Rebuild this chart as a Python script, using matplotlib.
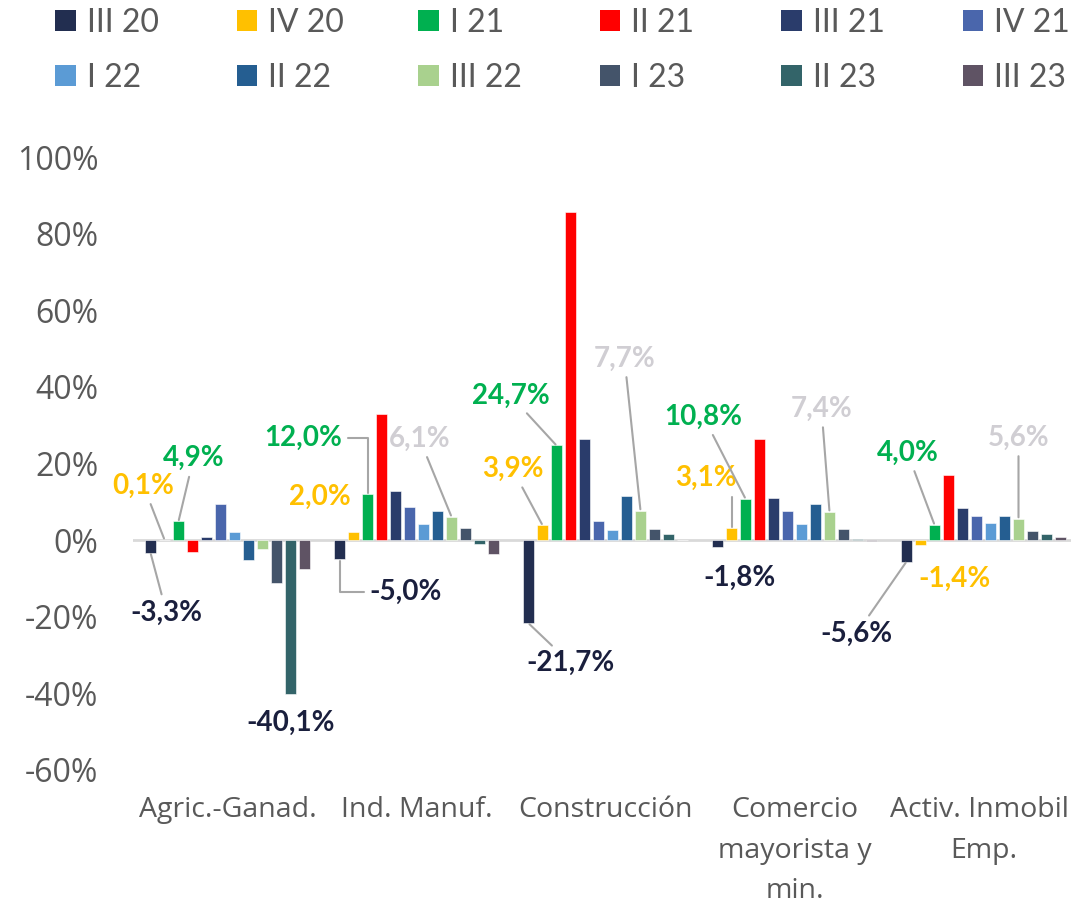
import numpy as np
import matplotlib
matplotlib.use("Agg")
import matplotlib.pyplot as plt
from matplotlib.patches import Patch

plt.rcParams["font.family"] = ["Lato", "DejaVu Sans"]

categories = ["Agric.-Ganad.", "Ind. Manuf.", "Construcción",
              "Comercio\nmayorista y\nmin.", "Activ. Inmobil.\nEmp."]
series = ["III 20", "IV 20", "I 21", "II 21", "III 21", "IV 21",
          "I 22", "II 22", "III 22", "I 23", "II 23", "III 23"]
colors = ["#222E50", "#FFC000", "#00B050", "#FF0000", "#2A3C6B", "#4A66AC",
          "#5B9BD5", "#255E91", "#A9D18E", "#44546A", "#336469", "#5F5364"]

# values in %, one row per category, one column per quarter
agric = [-3.3, 0.1, 4.9, -3.1, 0.8, 9.5, 2.1, -5.2, -2.3, -11.2, -40.1, -7.6]
manuf = [-5.0, 2.0, 12.0, 33.0, 12.7, 8.6, 4.3, 7.5, 6.1, 3.1, -1.0, -3.6]
constr = [-21.7, 3.9, 24.7, 85.7, 26.5, 5.0, 2.7, 11.5, 7.7, 2.9, 1.6, 0.0]
comerc = [-1.8, 3.1, 10.8, 26.4, 11.1, 7.6, 4.3, 9.3, 7.4, 3.0, 0.4, -0.3]
inmob = [-5.6, -1.4, 4.0, 17.1, 8.5, 6.3, 4.6, 6.2, 5.6, 2.3, 1.5, 0.9]
values = np.array([agric, manuf, constr, comerc, inmob])

yticks = [-60, -40, -20, 0, 20, 40, 60, 80, 100]

NAVY = "#1A1F3D"
YEL = "#FFC000"
GRN = "#00B050"
GRY = "#D0CED3"
# (category, series, dx px, dy px, colour, leader style)
labels = [
    (0, 0, 16, -60, NAVY, "line"), (0, 1, -21, 54, YEL, "line"),
    (0, 2, 15, 63, GRN, "line"), (0, 10, 0, -29, NAVY, None),
    (1, 0, 66, -33, NAVY, "elbow"), (1, 1, -34, 36, YEL, None),
    (1, 2, -64, 56, GRN, "elbow"), (1, 8, -32, 78, GRY, "line"),
    (2, 0, 42, -40, NAVY, "line"), (2, 1, -30, 56, YEL, "line"),
    (2, 2, -46, 50, GRN, "line"), (2, 8, -16, 152, GRY, "line"),
    (3, 0, 22, -31, NAVY, None), (3, 1, -26, 50, YEL, "elbow"),
    (3, 2, -42, 82, GRN, "line"), (3, 8, -8, 103, GRY, "line"),
    (4, 0, -50, -72, NAVY, "line"), (4, 1, 34, -33, YEL, None),
    (4, 2, -27, 72, GRN, "line"), (4, 8, 0, 81, GRY, "line"),
]

fig = plt.figure(figsize=(10.71, 9.02), dpi=100)
ax = fig.add_axes([133 / 1071, 132 / 902, 945 / 1071, 613 / 902])

n = len(series)
step = 14 / 189
width = 11 / 189
x = np.arange(len(categories))
for s in range(n):
    ax.bar(x + (s - (n - 1) / 2) * step, values[:, s], width, color=colors[s],
           edgecolor="white", linewidth=0.4, label=series[s], zorder=2)

ax.axhline(0, color="#D9D9D9", linewidth=2, zorder=1)

for c, s, dx, dy, col, style in labels:
    v = values[c, s]
    bx = x[c] + (s - (n - 1) / 2) * step
    txt = f"{v:.1f}".replace(".", ",") + "%"
    props = None
    if style == "line":
        props = dict(arrowstyle="-", color="#A6A6A6", lw=1.5,
                     shrinkA=2, shrinkB=1)
    elif style == "elbow":
        props = dict(arrowstyle="-", color="#A6A6A6", lw=1.5,
                     shrinkA=2, shrinkB=1,
                     connectionstyle="angle,angleA=0,angleB=90,rad=0")
    ax.annotate(txt, (bx, v), xytext=(dx, dy), textcoords="offset pixels",
                ha="center", va="center", fontsize=20, fontweight="bold",
                color=col, arrowprops=props, zorder=3)

ax.set_xlim(-0.5, 4.5)
ax.set_ylim(-60, 100)
ax.set_yticks(yticks)
ax.set_yticklabels([f"{t}%" for t in yticks], family="Open Sans",
                   fontsize=23, color="#595959")
ax.set_xticks(x)
ax.set_xticklabels(categories, linespacing=1.58, family="Open Sans",
                   fontsize=20.5, color="#595959")
ax.tick_params(axis="y", length=0, pad=25)
ax.tick_params(axis="x", length=0, pad=19)
for sp in ax.spines.values():
    sp.set_visible(False)

# legend: 6 columns of 2 rows, evenly spaced
for col in range(6):
    idx = [col, col + 6]
    hs = [Patch(facecolor=colors[i]) for i in idx]
    leg = fig.legend(hs, [series[i] for i in idx], loc="center left",
                     bbox_to_anchor=((55 + 181.5 * col) / 1071, 1 - 50.5 / 902),
                     borderaxespad=0, borderpad=0, frameon=False, fontsize=23,
                     labelcolor="#595959", handlelength=0.65, handleheight=0.62,
                     handletextpad=0.35, labelspacing=0.78)

fig.savefig("out.png", dpi=100)
